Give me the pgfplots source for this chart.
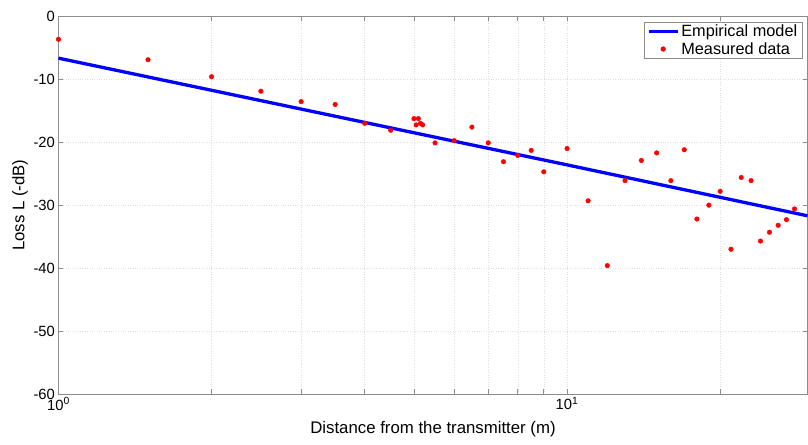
\documentclass[border=0pt]{standalone}
\usepackage{fontspec}
\setmainfont{Liberation Sans}
\usepackage{pgfplots}
\pgfplotsset{compat=1.18}
\usetikzlibrary{calc}

\pgfplotstableread{
x y
1 -3.65
1.5 -6.9
2 -9.6
2.5 -11.9
3 -13.55
3.5 -14.0
4 -17.0
4.5 -18.1
5.0 -16.25
5.05 -17.25
5.1 -16.25
5.15 -17.0
5.2 -17.25
5.5 -20.1
6 -19.75
6.5 -17.6
7 -20.1
7.5 -23.1
8 -22.1
8.5 -21.3
9 -24.7
10 -21.0
11 -29.3
12 -39.6
13 -26.1
14 -22.9
15 -21.7
16 -26.1
17 -21.2
18 -32.2
19 -30.0
20 -27.8
21 -37.0
22 -25.6
23 -26.1
24 -35.7
25 -34.3
26 -33.2
27 -32.3
28 -30.6
}\measured

\pgfplotstableread{
x y
1 -6.65
10 -23.6
29.7 -31.69
}\model

\begin{document}
\begin{tikzpicture}
\begin{semilogxaxis}[
  name=ax,
  scale only axis,
  width=749.5bp, height=378bp,
  xmin=1, xmax=29.7, ymin=-60, ymax=0,
  xtick={1,10}, xticklabels={{10\textsuperscript{0}},{10\textsuperscript{1}}},
  minor xtick={2,3,4,5,6,7,8,9,20},
  ytick={-60,-50,-40,-30,-20,-10,0},
  yticklabels={-60,-50,-40,-30,-20,-10,0},
  minor ytick={},
  xmajorgrids, xminorgrids, ymajorgrids,
  major grid style={dotted, black!13},
  minor grid style={dotted, black!13},
  tick align=inside,
  major tick length=5bp, minor tick length=5bp,
  axis line style={black!45, line width=0.8bp},
  every tick/.style={black!45, line width=0.6bp},
  tick label style={font=\fontsize{14.8bp}{17bp}\selectfont, black},
  xlabel={Distance from the transmitter (m)},
  ylabel={Loss L (-dB)},
  label style={font=\fontsize{16.8bp}{19bp}\selectfont},
  xlabel style={at={(axis description cs:0.5,-0.0926)}, anchor=center},
  ylabel style={at={(axis description cs:-0.0514,0.5)}, anchor=center},
  legend style={at={(axis description cs:1,1)}, anchor=north east,
    xshift=-5bp, yshift=-5.5bp, draw=black!45, line width=0.6bp,
    font=\fontsize{16.3bp}{19bp}\selectfont, inner xsep=3bp, inner ysep=1bp,
    row sep=0pt},
  legend cell align=left,
  legend image code/.code={\draw[mark repeat=2,mark phase=2,#1] plot coordinates {(0bp,0bp)(14.5bp,0bp)(29bp,0bp)};},
]
\addplot[blue, line width=3.3bp, no marks] table[x=x,y=y] {\model};
\addlegendentry{Empirical model}
\addplot[only marks, mark=*, mark size=2.3bp, red, mark options={draw=red, fill=red}] table[x=x,y=y] {\measured};
\addlegendentry{Measured data}
\end{semilogxaxis}
\pgfresetboundingbox
\path[use as bounding box] ($(ax.south west)+(-58.5bp,-50.7bp)$) rectangle ($(ax.north east)+(0.5bp,16.3bp)$);
\end{tikzpicture}
\end{document}
